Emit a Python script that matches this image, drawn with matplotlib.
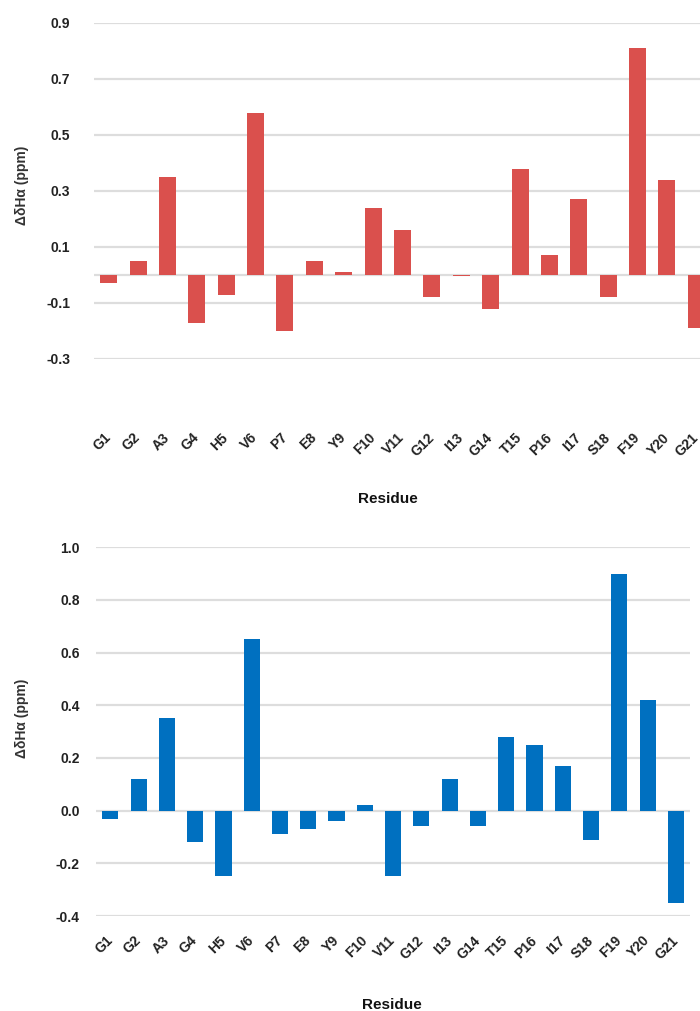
import matplotlib
matplotlib.use("Agg")
import matplotlib.pyplot as plt

plt.rcParams['font.family'] = ['Liberation Sans', 'DejaVu Sans']

residues = ["G1", "G2", "A3", "G4", "H5", "V6", "P7", "E8", "Y9", "F10", "V11",
            "G12", "I13", "G14", "T15", "P16", "I17", "S18", "F19", "Y20", "G21"]
top_values = [-0.03, 0.05, 0.35, -0.17, -0.07, 0.58, -0.20, 0.05, 0.01, 0.24, 0.16,
              -0.08, -0.005, -0.12, 0.38, 0.07, 0.27, -0.08, 0.81, 0.34, -0.19]
bottom_values = [-0.03, 0.12, 0.35, -0.12, -0.25, 0.65, -0.09, -0.07, -0.04, 0.02, -0.25,
                 -0.06, 0.12, -0.06, 0.28, 0.25, 0.17, -0.11, 0.90, 0.42, -0.35]
top_ticks = [-0.3, -0.1, 0.1, 0.3, 0.5, 0.7, 0.9]
bottom_ticks = [-0.4, -0.2, 0.0, 0.2, 0.4, 0.6, 0.8, 1.0]

W, H = 700, 1011
fig = plt.figure(figsize=(W / 100, H / 100), dpi=100)

RED = "#DA504D"
BLUE = "#0070C0"
GRID = "#DDDDDD"


def style(ax, ticks, fmt, ypad, xpad):
    for s in ax.spines.values():
        s.set_visible(False)
    ax.set_yticks(ticks)
    ax.set_yticklabels([fmt.format(t) for t in ticks], fontsize=10, fontweight='bold', color='#222222')
    ax.tick_params(axis='y', length=0, pad=ypad)
    ax.tick_params(axis='x', length=0, pad=xpad)
    ax.yaxis.grid(True, color=GRID, linewidth=1.6)
    ax.set_axisbelow(True)
    ax.set_xlim(-0.5, len(residues) - 0.5)
    x = list(range(len(residues)))
    ax.set_xticks(x)
    ax.set_xticklabels(residues, rotation=45, ha='right', va='center',
                       rotation_mode='anchor', fontsize=10, fontweight='bold', color='#222222')


# Top chart
ax1 = fig.add_axes([94 / W, 1 - 359 / H, 617 / W, 336 / H])
ax1.bar(range(len(residues)), top_values, width=0.58, color=RED, zorder=3)
ax1.axhline(0, color=GRID, linewidth=1.6, zorder=1)
ax1.set_ylim(-0.3, 0.9)
style(ax1, top_ticks, "{:.1f}", 17, 55)

# Bottom chart
ax2 = fig.add_axes([96.2 / W, 1 - 916 / H, 593.8 / W, 368.7 / H])
ax2.bar(range(len(residues)), bottom_values, width=0.57, color=BLUE, zorder=3)
ax2.set_ylim(-0.4, 1.0)
style(ax2, bottom_ticks, "{:.1f}", 12, 16)

# Axis titles
fig.text(22 / W, 1 - 185 / H, "ΔδHα (ppm)", rotation=90, ha='center', va='center',
         fontsize=10, fontweight='bold', color='#333333')
fig.text(22 / W, 1 - 718 / H, "ΔδHα (ppm)", rotation=90, ha='center', va='center',
         fontsize=10, fontweight='bold', color='#333333')
fig.text(388 / W, 1 - 499 / H, "Residue", ha='center', va='center',
         fontsize=11, fontweight='bold', color='#111111')
fig.text(392 / W, 1 - 1005 / H, "Residue", ha='center', va='center',
         fontsize=11, fontweight='bold', color='#111111')

fig.savefig("out.png", dpi=100, facecolor='white')
